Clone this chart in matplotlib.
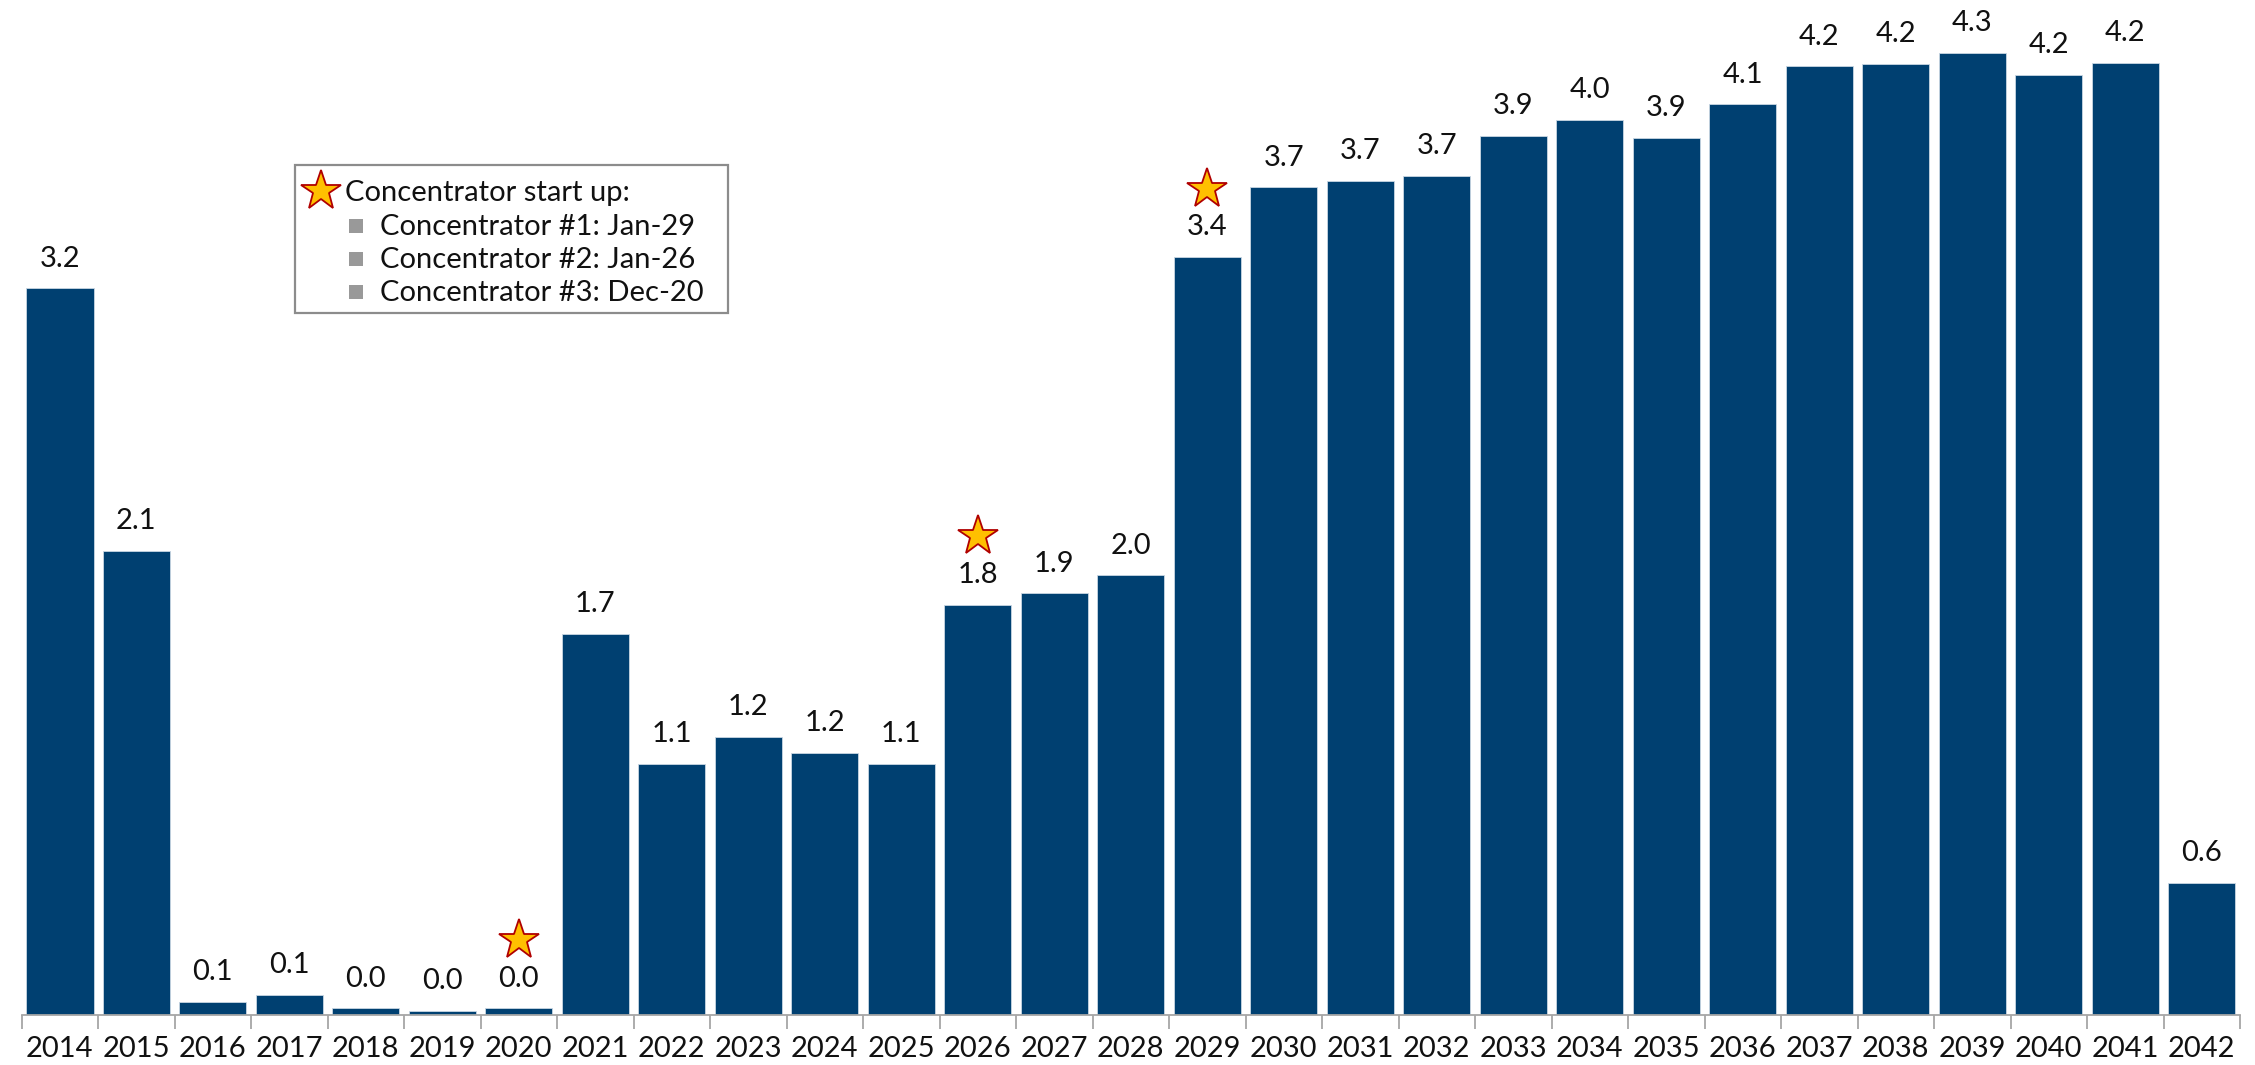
import matplotlib
matplotlib.use("Agg")
import matplotlib.pyplot as plt
from matplotlib.patches import Rectangle
from matplotlib.transforms import offset_copy
import numpy as np

years = [str(y) for y in range(2014, 2043)]
values = [3.24, 2.07, 0.06, 0.09, 0.03, 0.02, 0.03, 1.70, 1.12, 1.24, 1.17, 1.12,
          1.83, 1.88, 1.96, 3.38, 3.69, 3.72, 3.74, 3.92, 3.99, 3.91, 4.06, 4.23,
          4.24, 4.29, 4.19, 4.245, 0.59]
star_years = ["2020", "2026", "2029"]
legend_title = "Concentrator start up:"
legend_items = ["Concentrator #1: Jan-29", "Concentrator #2: Jan-26", "Concentrator #3: Dec-20"]

BAR = "#004071"
STAR_FACE = "#FFC000"
STAR_EDGE = "#B00000"
FONT = ["Lato", "DejaVu Sans"]
FS = 21

W, H = 2255, 1065
fig = plt.figure(figsize=(W / 100, H / 100), dpi=100)
x0, x1 = 21.6, 2240
ybase = 1015
ax = fig.add_axes([x0 / W, 1 - ybase / H, (x1 - x0) / W, ybase / H])

x = np.arange(len(years))
ax.bar(x, values, width=0.88, color=BAR, edgecolor="#c9d6e3", linewidth=0.6, zorder=2)
ax.set_xlim(-0.5, len(years) - 0.5)
ax.set_ylim(0, 4.525)

for xi, v in zip(x, values):
    ax.annotate(f"{v:.1f}", (xi, v), xytext=(0, 12), textcoords="offset points",
                ha="center", va="bottom", fontsize=FS, family=FONT, color="#111111")

tr = offset_copy(ax.transData, fig=fig, x=0, y=49, units="points")
for yr in star_years:
    i = years.index(yr)
    ax.plot([i], [values[i]], marker="*", markersize=30, markerfacecolor=STAR_FACE,
            markeredgecolor=STAR_EDGE, markeredgewidth=1.3, transform=tr,
            linestyle="none", clip_on=False, zorder=3)

for s in ["top", "right", "left"]:
    ax.spines[s].set_visible(False)
ax.spines["bottom"].set_color("#a6a6a6")
ax.spines["bottom"].set_linewidth(1.3)
ax.set_yticks([])
ax.set_xticks(x)
ax.set_xticklabels(years, fontsize=FS, family=FONT, color="#111111")
ax.tick_params(axis="x", which="major", length=0, pad=15)
ax.set_xticks(np.arange(-0.5, len(years)), minor=True)
ax.tick_params(axis="x", which="minor", length=10, width=1.3, color="#a6a6a6")

# legend box (figure pixels)
def fx(px):
    return px / W
def fy(py):
    return 1 - py / H

fig.patches.append(Rectangle((fx(295), fy(313)), fx(728) - fx(295), fy(165) - fy(313),
                             transform=fig.transFigure, facecolor="white",
                             edgecolor="#8c8c8c", linewidth=1.6, zorder=5))
fig.lines.append(plt.Line2D([fx(321)], [fy(191)], marker="*", markersize=30,
                            markerfacecolor=STAR_FACE, markeredgecolor=STAR_EDGE,
                            markeredgewidth=1.3, transform=fig.transFigure, zorder=6))
fig.text(fx(345), fy(193), legend_title, fontsize=FS, family=FONT, color="#111111",
         va="center", ha="left", zorder=6)
for k, item in enumerate(legend_items):
    yy = 226 + 33 * k
    fig.patches.append(Rectangle((fx(349), fy(yy + 7)), fx(14) - fx(0), fy(0) - fy(14),
                                 transform=fig.transFigure, facecolor="#999999",
                                 edgecolor="none", zorder=6))
    fig.text(fx(380), fy(yy + 1), item, fontsize=FS, family=FONT, color="#111111",
             va="center", ha="left", zorder=6)

fig.savefig("out.png", dpi=100, facecolor="white")
